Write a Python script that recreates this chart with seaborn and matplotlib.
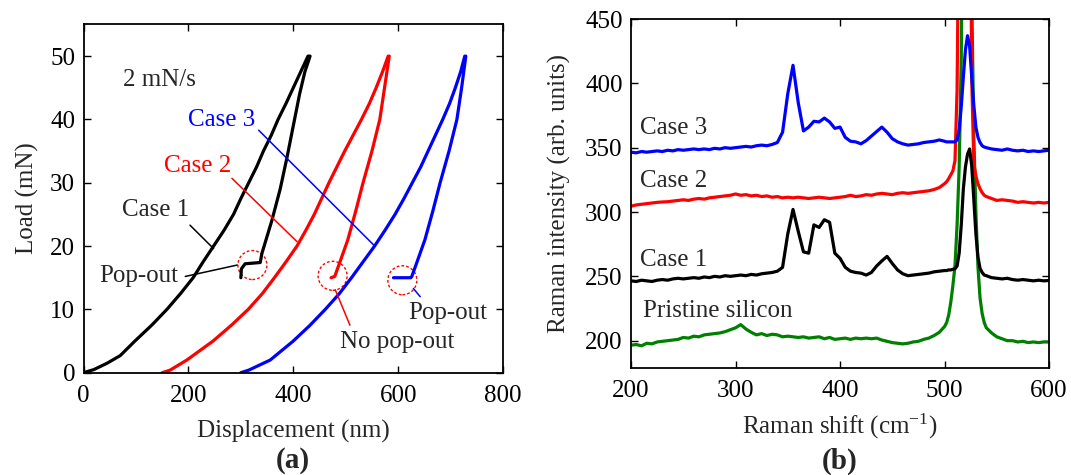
import numpy as np
import pandas as pd
import matplotlib
matplotlib.use("Agg")
import matplotlib.pyplot as plt
from matplotlib.patches import Ellipse
import seaborn as sns

# ---------------- (a) load-displacement curves ----------------
case1_disp = [0, 20, 45, 70, 98, 130, 159, 185, 209, 228, 248, 268, 286, 300, 315, 330,
              343, 358, 371, 386, 400, 414, 428,
              432, 422, 412, 400, 388, 375, 359, 340, 337, 308, 301, 300]
case1_load = [0, 0.5, 1.5, 2.7, 5, 7.5, 10, 12.5, 15, 17.5, 20, 22.5, 25, 27.5, 30, 32.5,
              35, 37.5, 40, 42.5, 45, 47.5, 50,
              50, 47.5, 44, 39, 34, 29, 24, 18.8, 17.4, 17.2, 16.4, 15]

case2_disp = [150, 165, 197, 247, 282, 314, 341, 364, 386, 407, 424, 440, 454, 468, 483,
              498, 514, 530, 545, 558, 570, 581,
              583, 574, 565, 550, 533, 519, 504, 489, 479, 472]
case2_load = [0, 0.4, 2, 5, 7.5, 10, 12.5, 15, 17.5, 20, 22.5, 25, 27.5, 30, 32.5,
              35, 37.5, 40, 42.5, 45, 47.5, 50,
              50, 45, 40, 35, 30, 25.5, 21, 17.5, 15.2, 15]

case3_disp = [300, 315, 356, 400, 432, 461, 488, 511, 533, 555, 575, 594, 611, 627, 643,
              657, 671, 685, 698, 709, 719, 727,
              729, 721, 712, 697, 680, 666, 651, 636, 626, 624, 591]
case3_load = [0, 0.4, 2, 5, 7.5, 10, 12.5, 15, 17.5, 20, 22.5, 25, 27.5, 30, 32.5,
              35, 37.5, 40, 42.5, 45, 47.5, 50,
              50, 45, 40, 35, 30, 25.5, 21, 17.5, 15.2, 15, 15]

# ---------------- (b) Raman spectra ----------------
raman_shift = [200, 205, 210, 215, 220, 225, 230, 235, 240, 245, 250, 255, 260, 265, 270,
               275, 280, 285, 290, 295, 300, 305, 310, 315, 320, 325, 330, 335, 340, 345,
               350, 355, 360, 365, 370, 375, 380, 385, 390, 395, 400, 405, 410, 415, 420,
               425, 430, 435, 440, 445, 450, 455, 460, 465, 470, 475, 480, 485, 490, 495,
               500,
               502, 504, 506, 508, 510, 512, 514, 516, 518, 520, 522, 524, 526, 528, 530,
               532, 534, 536, 538, 540,
               545, 550, 555, 560, 565, 570, 575, 580, 585, 590, 595, 600]

pristine = [196.5, 197, 196, 198, 197.5, 199, 199.5, 200, 200.5, 201, 202.5, 202, 203.5, 203,
            204.5, 205, 205.5, 206, 207, 208.5, 210,
            212.5, 209, 206.5, 204.5, 205.5, 204, 205, 204.5, 203, 203.5, 203, 202.5, 203,
            202, 202.5, 203, 201.5, 202.5, 201, 201.5,
            202, 201, 202, 201.5, 202, 201.5, 202, 200.5, 199.5, 198.5, 198, 197.5, 198,
            199, 199.5, 201, 202, 204, 206.5, 211,
            214, 220, 230, 243, 258, 290, 335, 420, 600, 760, 760, 620, 470, 360, 300,
            257, 233, 221, 214, 210,
            206, 203, 201.5, 200, 200, 199, 199.5, 198.5, 199, 198.5, 199, 199]

case2_raman = [304.5, 305.5, 306, 306.5, 307, 307.5, 307.8, 308, 308.5, 309, 309.5, 309, 310,
               310.5, 310, 311, 311.5, 312, 312.5, 313, 314,
               313, 313.5, 312.5, 313, 312, 312.5, 311.5, 312, 311, 311.5, 311, 311.5, 311,
               310.5, 311, 311.5, 311, 310.5, 311, 311.5,
               312, 313, 312, 312.5, 313.5, 313, 314, 314.5, 314, 313.5, 314.5, 315, 314.5,
               315, 315.5, 316, 316.5, 317.5, 319, 322,
               323.5, 326, 329, 332, 340, 395, 560, 720, 820, 860, 820, 640, 405, 338, 328,
               322, 318, 315, 313, 312,
               310.5, 309, 309.5, 309, 308.5, 307.5, 308, 307.5, 307, 307.5, 307, 307.5]

case1_raman = [246.5, 246, 247, 246.5, 246, 247, 247.5, 247, 248, 248.5, 248, 248.5, 249,
               248.5, 249.5, 249, 250, 249.5, 250.5, 250, 250.5,
               251, 250.5, 251.5, 251, 252, 252.5, 253, 254, 257, 283, 302, 285, 269, 268,
               290, 288, 294, 292, 268, 264,
               257, 254, 253, 252.5, 251, 253, 258, 262, 265.5, 260, 255, 252, 250.5, 251,
               251.5, 252, 252.5, 253.5, 254, 254.5,
               254.5, 255, 255, 255.5, 256, 258, 268, 290, 318, 335, 345, 349, 336, 310, 283,
               265, 256, 253, 251, 250.5,
               249, 248.5, 248, 248.5, 247.5, 247, 247.5, 247, 246.5, 247, 246.5, 246.8]

case3_raman = [346.5, 346, 347, 346.5, 347, 347.5, 347, 348, 347.5, 348.5, 348, 348.5, 349,
               348.5, 349, 348.5, 349.5, 349, 350, 349.5, 350,
               350.5, 351, 350.5, 351.5, 352, 351.5, 352.5, 354, 362, 392, 414, 385, 363, 366,
               370.5, 370, 373, 370, 365, 366,
               358, 355, 354.5, 353, 355.5, 359, 362.5, 366, 362, 357, 354.5, 353, 352, 352.5,
               353, 354, 354.5, 355, 356, 355,
               354.5, 354.5, 354.5, 354.5, 354.5, 356, 364, 382, 405, 426, 437, 429, 405, 383,
               366, 358, 354, 351.5, 350.5, 350,
               349, 348.5, 348, 349, 348, 347.5, 348, 347, 347.5, 347, 347.5, 348]

spectrum_names = ["Pristine silicon", "Case 2", "Case 1", "Case 3"]
colors = {"Case 1": "#000000", "Case 2": "#ff0000", "Case 3": "#0000ff",
          "Pristine silicon": "#008000"}

# ---------------- style ----------------
sns.set_theme(style="ticks")
plt.rcParams["font.family"] = ["Liberation Serif", "DejaVu Serif"]
plt.rcParams["mathtext.fontset"] = "custom"
plt.rcParams["mathtext.rm"] = "Liberation Serif"
plt.rcParams["mathtext.it"] = "Liberation Serif:italic"
plt.rcParams["mathtext.default"] = "regular"

FS = 18
fig = plt.figure(figsize=(10.71, 4.75), dpi=100)
ax1 = fig.add_axes([0.0780, 0.2154, 0.3917, 0.7331])
ax2 = fig.add_axes([0.5892, 0.2259, 0.3903, 0.7341])

# ---- panel (a) ----
curves = pd.concat([
    pd.DataFrame({"disp": case1_disp, "load": case1_load, "case": "Case 1"}),
    pd.DataFrame({"disp": case2_disp, "load": case2_load, "case": "Case 2"}),
    pd.DataFrame({"disp": case3_disp, "load": case3_load, "case": "Case 3"}),
])
for name, grp in curves.groupby("case", sort=False):
    sns.lineplot(data=grp, x="disp", y="load", ax=ax1, sort=False, estimator=None,
                 color=colors[name], lw=2.3, solid_joinstyle="round")

ax1.set_xlim(0, 800)
ax1.set_ylim(0, 55)
ax1.set_xticks([0, 200, 400, 600, 800])
ax1.set_yticks([0, 10, 20, 30, 40, 50])
ax1.set_xlabel("Displacement (nm)", fontsize=FS, labelpad=9)
ax1.set_ylabel("Load (mN)", fontsize=FS, labelpad=8)

ax1.text(75, 46.2, "2 mN/s", fontsize=FS, va="center", ha="left")
ax1.text(200, 39.9, "Case 3", fontsize=FS, va="center", ha="left", color="#0000ff")
ax1.plot([334, 553], [38.3, 20.2], color="#0000ff", lw=1.1)
ax1.text(154, 32.7, "Case 2", fontsize=FS, va="center", ha="left", color="#ff0000")
ax1.plot([283, 407], [30.7, 20.7], color="#ff0000", lw=1.1)
ax1.text(73, 25.7, "Case 1", fontsize=FS, va="center", ha="left")
ax1.plot([203, 248], [23.3, 19.6], color="black", lw=1.1)
ax1.text(30, 15.3, "Pop-out", fontsize=FS, va="center", ha="left")
ax1.plot([194, 293], [15.2, 17.0], color="black", lw=1.1)
ax1.text(490, 4.9, "No pop-out", fontsize=FS, va="center", ha="left")
ax1.plot([480, 508], [13.1, 7.5], color="#ff0000", lw=1.1)
ax1.text(619, 9.5, "Pop-out", fontsize=FS, va="center", ha="left")
ax1.plot([629, 642], [13.3, 12.0], color="#0000ff", lw=1.1)

# dashed circles around the pop-out regions (29 px across)
px_per_x = 419.5 / 800
px_per_y = 348.2 / 55
for cx, cy in [(322, 17.0), (475, 15.3), (608, 14.6)]:
    ax1.add_patch(Ellipse((cx, cy), 29 / px_per_x, 29 / px_per_y, fill=False,
                          ec="#ff0000", ls=(0, (2, 1.5)), lw=1.0))

# ---- panel (b) ----
spectra = pd.concat([
    pd.DataFrame({"shift": raman_shift, "intensity": vals, "sample": name})
    for name, vals in [("Pristine silicon", pristine), ("Case 2", case2_raman),
                       ("Case 1", case1_raman), ("Case 3", case3_raman)]
])
sns.lineplot(data=spectra, x="shift", y="intensity", hue="sample", hue_order=spectrum_names,
             palette=colors, ax=ax2, estimator=None, sort=False, lw=2.3, legend=False)

ax2.set_xlim(200, 600)
ax2.set_ylim(179, 450)
ax2.set_xticks([200, 300, 400, 500, 600])
ax2.set_yticks([200, 250, 300, 350, 400, 450])
ax2.set_xlabel("Raman shift (cm$^{-1}$)", fontsize=FS, labelpad=7)
ax2.set_ylabel("Raman intensity (arb. units)", fontsize=FS, labelpad=10)

ax2.text(209, 365, "Case 3", fontsize=FS, va="center", ha="left")
ax2.text(209, 324, "Case 2", fontsize=FS, va="center", ha="left")
ax2.text(209, 262.4, "Case 1", fontsize=FS, va="center", ha="left")
ax2.text(211, 223.4, "Pristine silicon", fontsize=FS, va="center", ha="left")

for ax in (ax1, ax2):
    ax.tick_params(direction="in", top=True, right=True, length=5, width=1.0,
                   labelsize=FS, colors="black")
    ax.tick_params(axis="x", pad=9)
    ax.tick_params(axis="y", pad=6)
    for sp in ax.spines.values():
        sp.set_visible(True)
        sp.set_linewidth(1.3)
        sp.set_color("black")

fig.text(293 / 1071, 1 - 461 / 475, "(a)", fontsize=21, fontweight="bold",
         ha="center", va="center")
fig.text(840 / 1071, 1 - 461 / 475, "(b)", fontsize=21, fontweight="bold",
         ha="center", va="center")

fig.savefig("out.png", dpi=100)
